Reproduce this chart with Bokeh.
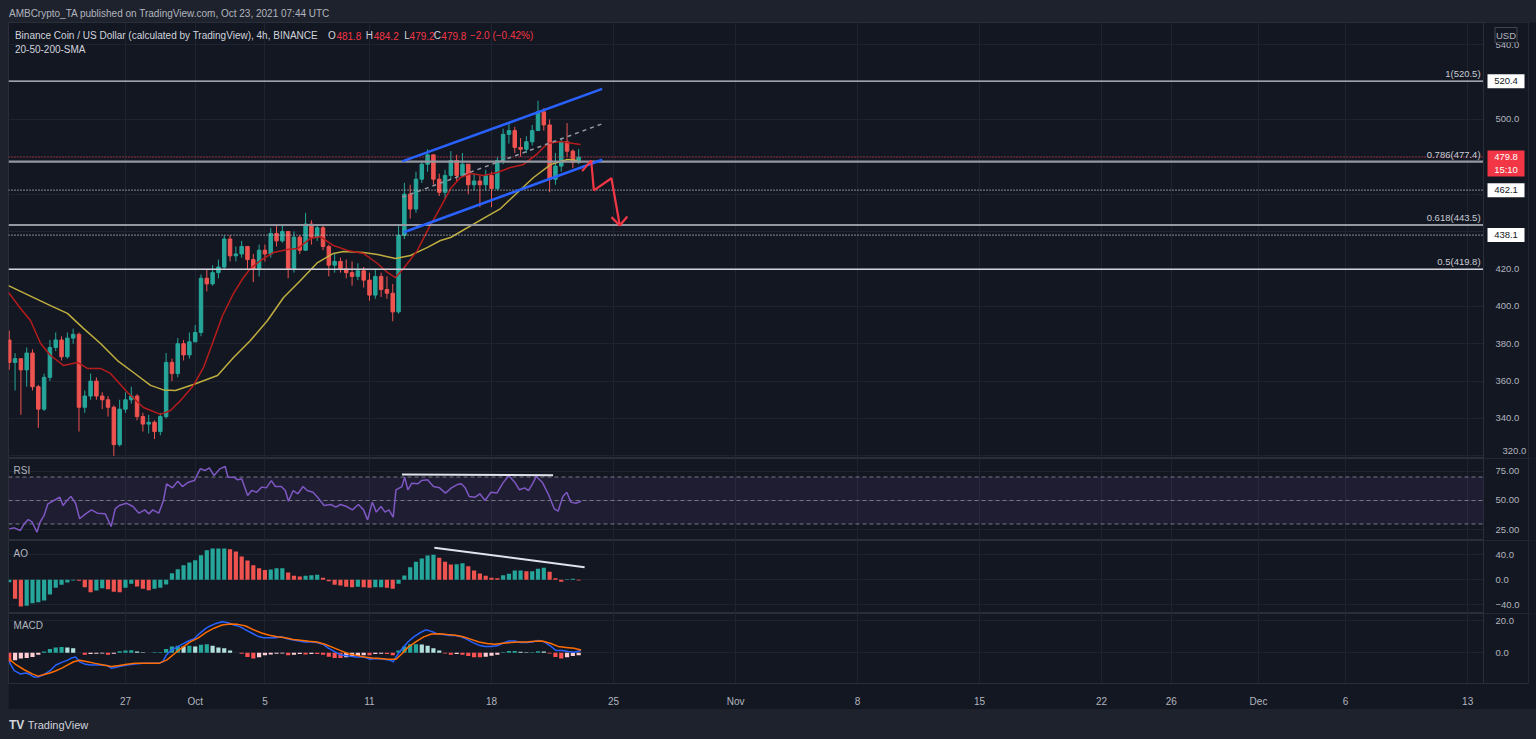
import pandas as pd
from bokeh.plotting import figure
from bokeh.layouts import column, row
from bokeh.models import Range1d, FixedTicker, BoxAnnotation, Spacer
from bokeh.core.properties import value
from bokeh.embed import file_html
from bokeh.resources import INLINE

# ---------------- data ----------------
EPOCH = pd.Timestamp("2021-10-01 00:00")
CANDLE_START = "2021-09-20 08:00"   # 8h candles
OPEN_FIRST = 382.0
CLOSE = [370, 372, 366, 375, 357, 345, 362, 378, 382, 373,
         383, 385, 346, 352, 360, 352, 350, 346, 326, 345,
         350, 352, 341, 337, 338, 333, 341, 370, 364, 380,
         374, 381, 386, 415, 412, 418, 421, 436, 427, 428,
         432, 425, 420, 430, 428, 439, 435, 440, 420, 437,
         430, 444, 437, 442, 432, 422, 424, 420, 418, 416,
         419, 414, 406, 416, 409, 407, 397, 438, 460, 452,
         468, 476, 481, 468, 461, 470, 478, 470, 476, 465,
         467, 465, 470, 463, 478, 492, 494, 485, 484, 488,
         494, 504, 497, 468, 475, 488, 483, 477, 479.8]
HIGH = [387, 375, 372, 378, 377, 358, 364, 382, 386, 384,
        386, 388, 386, 355, 364, 362, 354, 352, 347, 350,
        354, 357, 353, 343, 342, 339, 343, 375, 372, 383,
        382, 386, 390, 417, 420, 422, 425, 438, 438, 432,
        435, 432, 428, 433, 433, 442, 443, 444, 440, 440,
        438, 450, 446, 444, 443, 433, 428, 426, 425, 424,
        423, 421, 418, 420, 418, 416, 412, 443, 466, 465,
        472, 478, 484, 481, 471, 473, 483, 481, 482, 476,
        471, 470, 473, 472, 480, 495, 498, 496, 490, 491,
        497, 510, 506, 500, 482, 490, 498, 484, 484.2]
LOW = [366, 355, 342, 357, 355, 335, 344, 360, 376, 371,
       372, 380, 333, 343, 350, 350, 345, 341, 320, 325,
       343, 348, 339, 333, 332, 329, 331, 340, 360, 362,
       371, 372, 381, 384, 408, 411, 415, 420, 424, 424,
       426, 420, 413, 416, 424, 426, 432, 434, 415, 418,
       428, 430, 433, 435, 430, 416, 418, 418, 415, 411,
       414, 410, 403, 404, 405, 404, 392, 396, 436, 447,
       450, 466, 472, 465, 459, 458, 468, 467, 469, 460,
       462, 453, 462, 453, 462, 476, 487, 482, 480, 482,
       486, 494, 494, 461, 465, 472, 480, 474, 476]

SMA20_DAYS = [-10.71, -10.02, -9.45, -8.87, -8.30, -7.56, -6.75, -6.18, -5.43, -4.86,
              -3.88, -2.97, -1.99, -1.42, -0.84, -0.10, 0.48, 1.05, 1.57, 2.20,
              2.77, 3.17, 3.75, 4.49, 5.30, 5.87, 6.62, 7.19, 7.93, 8.74,
              9.65, 10.46, 11.03, 11.49, 11.95, 12.75, 13.33, 14.07, 14.65, 15.22,
              15.79, 16.54, 17.34, 18.09, 18.84, 19.64, 20.21, 20.96, 21.71, 22.11]
SMA20_VALUES = [407.4, 398.8, 392.4, 380.1, 373.7, 368.4, 370.0, 366.8, 366.8, 364.1,
                353.9, 345.9, 342.2, 344.3, 349.6, 357.7, 367.3, 381.7, 395.1, 406.9,
                415.4, 420.2, 424.5, 428.8, 430.4, 430.9, 436.3, 437.3, 432.5, 429.9,
                428.3, 422.9, 418.1, 415.4, 420.2, 429.9, 440.6, 452.9, 463.0, 468.9,
                471.0, 470.0, 471.6, 474.3, 475.9, 481.7, 487.1, 488.2, 487.1, 486.6]
SMA50_DAYS = [-10.71, -10.14, -8.30, -7.33, -6.41, -5.43, -4.46, -3.54, -2.56, -1.82,
              -1.13, -0.10, 1.28, 2.20, 3.17, 4.15, 5.07, 6.04, 7.02, 7.93,
              8.51, 9.65, 10.46, 11.49, 12.35, 13.33, 14.07, 14.65, 16.54, 17.52,
              18.49, 19.41, 20.39, 20.96, 21.36, 21.94]
SMA50_VALUES = [411.1, 408.5, 400.4, 396.2, 388.2, 380.1, 371.0, 364.6, 357.7, 355.3,
                355.0, 358.2, 363.0, 372.6, 381.7, 392.4, 404.7, 413.8, 423.4, 428.3,
                429.3, 428.8, 427.7, 425.6, 427.2, 431.5, 435.2, 436.8, 447.0, 452.3,
                460.9, 468.9, 475.8, 477.5, 478.5, 478.0]

CHANNEL_UPPER = ([11.88, 23.35], [477.5, 516.3])
CHANNEL_LOWER = ([11.97, 23.35], [439.6, 478.4])
CHANNEL_MID = ([11.88, 23.35], [458.4, 497.6])
ARROW_PATH = ([22.20, 22.72, 22.87, 23.88, 24.36], [472.3, 478.0, 462.0, 468.5, 443.2])
ARROW_HEAD = ([23.88, 24.36, 24.79], [447.7, 443.2, 448.0])

FIB_LEVELS = [520.4, 477.4, 443.5, 419.8]
FIB_TEXTS = ["1(520.5)", "0.786(477.4)", "0.618(443.5)", "0.5(419.8)"]
DOTTED_LEVELS = [462.1, 438.1]
LAST_PRICE = 479.8
COUNTDOWN = "15:10"

RSI_DAYS = [-10.67, -10.38, -10.04, -9.81, -9.58, -9.35, -9.08, -8.90, -8.67, -8.45,
            -8.11, -7.77, -7.58, -7.36, -7.13, -6.86, -6.63, -6.29, -5.95, -5.61,
            -5.16, -4.82, -4.59, -4.36, -3.95, -3.57, -3.23, -2.89, -2.66, -2.43,
            -2.09, -1.82, -1.64, -1.30, -1.00, -0.73, -0.39, -0.05, 0.29, 0.58,
            0.81, 1.08, 1.42, 1.72, 1.88, 2.22, 2.44, 2.67, 3.01, 3.24,
            3.53, 3.81, 4.08, 4.37, 4.60, 4.94, 5.17, 5.35, 5.62, 5.89,
            6.19, 6.42, 6.76, 7.10, 7.39, 7.78, 8.07, 8.34, 8.68, 9.02,
            9.36, 9.66, 9.89, 10.16, 10.39, 10.66, 10.89, 11.11, 11.36, 11.52,
            11.86, 12.02, 12.20, 12.43, 12.77, 12.99, 13.33, 13.67, 14.02, 14.36,
            14.70, 15.04, 15.26, 15.49, 15.72, 16.06, 16.33, 16.63, 16.97, 17.31,
            17.65, 17.99, 18.33, 18.60, 18.90, 19.12, 19.35, 19.57, 19.91, 20.25,
            20.60, 20.82, 21.09, 21.32, 21.55, 21.84, 22.14]
RSI_VALUES = [25.8, 26.7, 24.4, 30.1, 33.8, 31.5, 23.0, 31.5, 37.2, 47.2,
              50.0, 52.8, 45.7, 50.0, 53.4, 47.7, 34.4, 38.6, 42.0, 39.2,
              38.6, 27.8, 42.9, 45.7, 47.7, 44.9, 39.2, 42.0, 38.6, 42.0,
              39.2, 50.0, 64.2, 60.8, 66.5, 61.9, 65.6, 67.0, 77.0, 75.6,
              77.9, 71.3, 77.0, 79.0, 69.9, 69.9, 67.6, 68.5, 54.3, 58.5,
              57.1, 61.4, 60.8, 67.0, 61.9, 61.9, 58.5, 49.4, 58.5, 55.7,
              61.9, 58.5, 57.1, 51.4, 45.7, 46.6, 44.3, 46.6, 44.9, 42.0,
              46.6, 42.0, 33.5, 48.6, 40.1, 44.9, 40.1, 42.0, 35.8, 59.1,
              61.9, 69.9, 59.1, 64.8, 64.2, 67.0, 67.6, 61.9, 60.8, 56.3,
              60.8, 63.6, 64.2, 60.8, 53.4, 52.8, 55.7, 50.0, 57.1, 56.3,
              64.8, 71.3, 65.6, 59.1, 60.8, 58.5, 64.2, 70.5, 65.6, 55.7,
              42.9, 40.9, 53.4, 57.1, 48.6, 47.7, 49.4]
RSI_TREND = ([11.86, 20.53], [72.2, 71.6])
RSI_BANDS = [70, 50, 30]

AO = [-3.8, -30.4, -42.7, -41.6, -37.4, -35.8, -33.1, -23.5, -12.8, -8.0,
      -4.3, -1.1, -1.6, -11.8, -19.8, -17.1, -13.4, -15.0, -19.2, -19.8,
      -12.8, -6.4, -10.7, -14.4, -16.6, -14.4, -12.8, -7.5, 10.6, 17.0,
      23.4, 27.7, 31.4, 39.4, 47.4, 50.1, 50.1, 50.1, 49.0, 45.3,
      37.3, 30.9, 23.4, 18.6, 15.9, 16.5, 18.6, 18.6, 11.7, 6.4,
      5.3, 6.4, 7.4, 8.0, 3.2, -2.1, -8.0, -9.1, -11.2, -11.8,
      -11.2, -11.8, -12.8, -11.8, -11.8, -12.8, -14.4, -6.4, 6.9, 20.2,
      28.8, 34.1, 38.9, 40.0, 35.2, 28.8, 24.5, 25.0, 26.6, 21.9,
      14.9, 10.1, 6.4, 3.2, 2.6, 7.4, 9.6, 14.9, 14.9, 13.8,
      13.8, 17.6, 19.2, 12.8, 2.6, -3.2, 1.0, 1.6, -1.1]
AO_TREND = ([13.72, 22.34], [51.2, 20.2])

MACD_HIST = [-5.6, -4.6, -3.6, -3.2, -2.6, -1.2, 0.8, 2.4, 3.4, 3.6,
             3.4, 2.8, 0.0, -1.2, -0.8, -0.6, -0.4, -1.2, -0.6, 1.0,
             1.4, 1.6, 0.8, 0.4, 0.0, 0.4, 0.4, 2.4, 4.0, 4.4,
             4.0, 4.4, 4.0, 5.0, 5.4, 4.4, 3.4, 2.8, 1.4, 0.0,
             -0.6, -2.6, -3.6, -2.8, -1.6, -1.0, -0.6, -0.4, -1.6, -1.2,
             -0.8, -1.0, -0.8, -0.8, -1.2, -2.4, -3.2, -3.2, -2.8, -2.4,
             -2.0, -1.6, -1.6, -0.8, -0.6, -0.8, -1.6, 1.4, 4.0, 5.4,
             5.4, 5.2, 4.4, 2.8, 1.4, -0.4, -1.2, -0.8, -1.2, -2.0,
             -2.8, -2.8, -2.4, -1.8, -1.2, 0.4, 1.2, 1.2, 0.6, 0.4,
             0.4, 1.0, 0.8, -0.4, -2.6, -3.6, -2.8, -2.0, -1.6]
MACD_DAYS = [-10.67, -10.38, -10.04, -9.70, -9.47, -9.24, -9.01, -8.67, -8.33, -7.99,
             -7.65, -7.31, -7.09, -6.86, -6.63, -6.29, -5.95, -5.50, -5.04, -4.82,
             -4.59, -4.36, -3.91, -3.46, -3.00, -2.55, -2.09, -1.87, -1.64, -1.41,
             -1.07, -0.73, -0.39, -0.05, 0.18, 0.40, 0.63, 0.86, 1.20, 1.54,
             1.88, 2.22, 2.56, 2.90, 3.24, 3.58, 3.92, 4.26, 4.60, 4.94,
             5.28, 5.62, 5.96, 6.30, 6.64, 6.98, 7.32, 7.66, 8.00, 8.34,
             8.80, 9.25, 9.70, 10.04, 10.39, 10.84, 11.18, 11.36, 11.52, 11.86,
             12.20, 12.54, 12.88, 13.22, 13.56, 13.90, 14.24, 14.58, 14.92, 15.26,
             15.60, 15.94, 16.28, 16.63, 16.97, 17.31, 17.65, 17.99, 18.33, 18.67,
             19.01, 19.35, 19.69, 20.03, 20.37, 20.71, 21.05, 21.39, 21.73, 22.14]
MACD_VALUES = [-5.6, -11.2, -13.2, -12.6, -13.6, -15.2, -15.2, -13.6, -11.2, -7.6,
               -6.0, -4.6, -3.2, -2.6, -5.6, -7.2, -7.6, -7.6, -8.0, -9.6,
               -9.2, -8.6, -7.6, -7.0, -6.6, -6.6, -6.6, -5.6, -1.2, 1.4,
               3.4, 5.4, 7.4, 8.8, 11.4, 13.4, 15.4, 16.8, 18.4, 19.4,
               18.8, 17.4, 16.4, 14.4, 12.4, 10.4, 9.4, 9.4, 9.4, 10.0,
               8.8, 8.0, 7.4, 6.8, 6.8, 6.4, 5.4, 2.8, 0.8, -1.2,
               -2.0, -2.6, -2.6, -4.0, -3.6, -4.0, -4.6, -5.6, -2.6, 2.4,
               6.8, 10.0, 12.4, 14.4, 13.4, 11.8, 11.4, 10.8, 10.8, 10.0,
               8.4, 6.4, 4.8, 4.0, 4.0, 4.4, 6.0, 7.4, 7.4, 6.4,
               6.4, 6.8, 7.8, 6.8, 4.4, 1.4, 1.4, 0.8, 0.4, 1.4]
SIGNAL_DAYS = [-10.67, -10.26, -9.81, -9.35, -9.01, -8.67, -8.33, -7.99, -7.65, -7.31,
               -6.97, -6.63, -6.18, -5.73, -5.27, -4.82, -4.36, -3.91, -3.46, -3.00,
               -2.09, -1.64, -1.19, -0.73, -0.28, 0.18, 0.63, 1.08, 1.54, 1.99,
               2.44, 2.90, 3.35, 3.81, 4.26, 4.71, 5.17, 5.62, 6.07, 6.53,
               6.98, 7.44, 7.89, 8.34, 8.80, 9.25, 9.70, 10.16, 10.61, 11.07,
               11.52, 11.86, 12.20, 12.65, 13.11, 13.56, 14.02, 14.47, 14.92, 15.38,
               15.83, 16.28, 16.74, 17.19, 17.65, 18.10, 18.55, 19.01, 19.46, 19.91,
               20.37, 20.82, 21.28, 21.73, 22.14]
SIGNAL_VALUES = [-4.0, -7.6, -10.6, -13.2, -14.6, -13.6, -12.6, -11.2, -9.6, -7.6,
                 -5.6, -4.6, -5.6, -6.6, -7.6, -8.6, -8.0, -7.2, -6.6, -6.6,
                 -6.6, -4.6, -0.6, 3.4, 6.8, 9.4, 12.8, 15.4, 17.4, 18.0,
                 17.8, 16.8, 14.4, 12.4, 11.0, 10.0, 9.4, 8.4, 7.8, 7.2,
                 6.8, 5.4, 3.4, 1.4, -0.6, -1.6, -2.6, -3.2, -3.6, -4.0,
                 -4.0, -0.6, 3.4, 6.8, 10.0, 11.8, 12.0, 11.4, 11.0, 10.0,
                 8.4, 6.8, 5.8, 5.4, 6.0, 6.4, 6.8, 6.8, 7.2, 7.4,
                 6.0, 4.0, 3.4, 2.8, 1.8]

XTICK_DAYS = [-4, 0, 4, 10, 17, 24, 31, 38, 45, 52, 56, 61, 66, 73]
XTICK_LABELS = ["27", "Oct", "5", "11", "18", "25", "Nov", "8", "15", "22", "26", "Dec", "6", "13"]
PRICE_TICKS = [320, 340, 360, 380, 400, 420, 440, 460, 480, 500, 520, 540]
PRICE_HIDDEN = [320, 440, 460, 480, 520]

# ---------------- styling ----------------
BG = "#131722"
OUTER = "#1e222d"
GRID = "#1f2330"
SEP = "#2a2e39"
TXT = "#b2b5be"
UP = "#26a69a"
DOWN = "#ef5350"
FONT = "Liberation Sans"
W = 1520            # visible frame width (chart + price scale)
HIDDEN_RIGHT = 60   # axis side panel, pushed off-screen; the axis itself is drawn at AXIS_X
X_START = -10.71
AXIS_X = 73.91      # left edge of the price-scale column
X_END = 76.49
XR = Range1d(X_START, X_END)
BOX_X = 75.20       # centre of the price-scale column
TICK_LABEL_X = 75.00

times = [(t - EPOCH) / pd.Timedelta(days=1)
         for t in pd.date_range(CANDLE_START, periods=len(CLOSE), freq="8h")]
opens = [OPEN_FIRST] + CLOSE[:-1]


def pane(height, y0, y1, yticks, ylabels, bottom=0, xaxis=False):
    p = figure(width=W + HIDDEN_RIGHT, height=height, x_range=XR, y_range=Range1d(y0, y1),
               output_backend="svg", toolbar_location=None,
               x_axis_location="below" if xaxis else None, y_axis_location="right",
               min_border_left=0, min_border_right=HIDDEN_RIGHT, min_border_top=0,
               min_border_bottom=bottom, background_fill_color=BG,
               border_fill_color=BG, outline_line_color=SEP)
    p.xgrid.ticker = FixedTicker(ticks=XTICK_DAYS)
    p.xgrid.grid_line_color = GRID
    yt = FixedTicker(ticks=yticks)
    p.yaxis.ticker = yt
    p.ygrid.ticker = yt
    p.ygrid.grid_line_color = GRID
    p.yaxis.fixed_location = AXIS_X
    p.yaxis.major_label_overrides = {int(t): l for t, l in zip(yticks, ylabels)}
    p.yaxis.major_tick_line_color = None
    p.yaxis.minor_tick_line_color = None
    p.yaxis.axis_line_color = SEP
    p.yaxis.major_label_standoff = 6
    p.yaxis.major_label_text_color = TXT
    p.yaxis.major_label_text_font = FONT
    p.yaxis.major_label_text_font_size = "9.5px"
    # price-scale column background (covers the grid there)
    p.add_layout(BoxAnnotation(left=AXIS_X, fill_color=BG, fill_alpha=1.0,
                               line_color=None, level="underlay"))
    if xaxis:
        p.xaxis.ticker = FixedTicker(ticks=XTICK_DAYS)
        p.xaxis.major_label_overrides = {int(t): l for t, l in zip(XTICK_DAYS, XTICK_LABELS)}
        p.xaxis.major_tick_line_color = None
        p.xaxis.minor_tick_line_color = None
        p.xaxis.axis_line_color = SEP
        p.xaxis.major_label_standoff = 6
        p.xaxis.major_label_text_color = TXT
        p.xaxis.major_label_text_font = FONT
        p.xaxis.major_label_text_font_size = "10px"
    return p


def txt(p, x, y, s, color=TXT, size="10px", align="left", baseline="middle",
        style="normal", yoff=0, level="glyph"):
    p.text(x=[x], y=[y], text=[s], text_color=color, text_font=value(FONT),
           text_font_size=value(size), text_align=align, text_baseline=baseline,
           text_font_style=style, y_offset=yoff, level=level)


def hline(p, y, color, width, dash="solid"):
    p.segment(x0=[X_START], x1=[AXIS_X], y0=[y], y1=[y], line_color=color,
              line_width=width, line_dash=dash)


def scale_box(p, y, s, bg, fg, w=37, h=14, border=None, yc=None):
    p.rect(x=[BOX_X], y=[y if yc is None else yc], width=w, height=h, width_units="screen",
           height_units="screen", fill_color=bg, line_color=border, level="annotation")
    for i, line in enumerate(s.split("\n")):
        p.text(x=[BOX_X], y=[y], text=[line], text_align="center", text_baseline="middle",
               text_color=fg, text_font=value(FONT), text_font_size=value("9.5px"),
               y_offset=12.5 * i, level="annotation")


# ---------------- header ----------------
hdr = figure(width=W, height=22, x_range=Range1d(0, W), y_range=Range1d(0, 22),
             output_backend="svg", toolbar_location=None, x_axis_location=None,
             y_axis_location=None, min_border=0, background_fill_color=OUTER,
             border_fill_color=OUTER, outline_line_color=None)
hdr.xgrid.visible = False
hdr.ygrid.visible = False
txt(hdr, 0.5, 8.8, "AMBCrypto_TA published on TradingView.com, Oct 23, 2021 07:44 UTC",
    size="10px")

# ---------------- price pane ----------------
main = pane(436, 318.6, 551.8, PRICE_TICKS,
            ["" if v in PRICE_HIDDEN else f"{v}.0" for v in PRICE_TICKS])
colors = [UP if c >= o else DOWN for o, c in zip(opens, CLOSE)]
main.segment(x0=times, y0=LOW, x1=times, y1=HIGH, line_color=colors, line_width=1)
main.vbar(x=times, width=0.2, top=[max(o, c) for o, c in zip(opens, CLOSE)],
          bottom=[min(o, c) for o, c in zip(opens, CLOSE)],
          fill_color=colors, line_color=colors)
main.line(SMA50_DAYS, SMA50_VALUES, line_color="#bfae3f", line_width=1.5)
main.line(SMA20_DAYS, SMA20_VALUES, line_color="#b71c1c", line_width=1.5)

fib_styles = [("#c8cbd3", 1.3), ("#9598a1", 2.2), ("#9598a1", 2.2), ("#d1d4dc", 1.5)]
for lvl, (col, w) in zip(FIB_LEVELS, fib_styles):
    hline(main, lvl, col, w)
for lvl in DOTTED_LEVELS:
    hline(main, lvl, "#c8cbd3", 1.2, "1 2")
hline(main, LAST_PRICE, "#f23645", 1, "1 2")
for lvl, s in zip(FIB_LEVELS, FIB_TEXTS):
    txt(main, 73.74, lvl, s, color="#c8cbd3", size="9.5px", align="right",
        baseline="bottom", yoff=-2)

main.line(*CHANNEL_MID, line_color="#9598a1", line_width=1.5, line_dash="4 4")
main.line(*CHANNEL_UPPER, line_color="#2962ff", line_width=2.5)
main.line(*CHANNEL_LOWER, line_color="#2962ff", line_width=2.5)
main.line(*ARROW_PATH, line_color="#f23645", line_width=2.2)
main.line(*ARROW_HEAD, line_color="#f23645", line_width=2.2)

LEG_Y1, LEG_Y2 = 544.8, 537.2
txt(main, -10.34, LEG_Y1, "Binance Coin / US Dollar (calculated by TradingView), 4h, BINANCE",
    color="#d1d4dc")
for xx, s, col in [(7.62, "O", "#d1d4dc"), (8.10, "481.8", "#f23645"),
                   (9.78, "H", "#d1d4dc"), (10.24, "484.2", "#f23645"),
                   (11.99, "L", "#d1d4dc"), (12.30, "479.2", "#f23645"),
                   (13.68, "C", "#d1d4dc"), (14.12, "479.8", "#f23645"),
                   (15.76, "\u22122.0 (\u22120.42%)", "#f23645")]:
    txt(main, xx, LEG_Y1, s, color=col)
txt(main, -10.34, LEG_Y2, "20-50-200-SMA", color="#d1d4dc")

# price-scale boxes
for lvl in [FIB_LEVELS[0]] + DOTTED_LEVELS:
    scale_box(main, lvl, f"{lvl:.1f}", "#ffffff", "#131722")
scale_box(main, LAST_PRICE, f"{LAST_PRICE:.1f}\n{COUNTDOWN}", "#f23645", "#ffffff",
          h=26, yc=476.4)
scale_box(main, 545.1, "USD", BG, TXT, w=22, h=15, border="#434651")
txt(main, TICK_LABEL_X, 321.0, "320.0", size="9.5px", baseline="bottom", level="annotation")

# ---------------- RSI ----------------
rsi = pane(82, 15.9, 85.8, [25, 50, 75], ["25.00", "50.00", "75.00"])
rsi.add_layout(BoxAnnotation(bottom=30, top=70, right=AXIS_X, fill_color="#7e57c2",
                             fill_alpha=0.1, line_color=None, level="underlay"))
for lv in RSI_BANDS:
    hline(rsi, lv, "#787b86", 1, "4 3")
rsi.line(RSI_DAYS, RSI_VALUES, line_color="#7e57c2", line_width=1.5)
rsi.line(*RSI_TREND, line_color="#e0e3eb", line_width=2)
txt(rsi, -10.42, 75.6, "RSI")

# ---------------- AO ----------------
ao = pane(73, -53.9, 62.9, [-40, 0, 40], ["\u221240.0", "0.0", "40.0"])
ao_colors = [UP if i == 0 or v >= AO[i - 1] else DOWN for i, v in enumerate(AO)]
ao.vbar(x=times, width=0.24, top=AO, bottom=0, fill_color=ao_colors, line_color=None)
ao.line(*AO_TREND, line_color="#e0e3eb", line_width=2)
txt(ao, -10.42, 42, "AO")

# ---------------- MACD ----------------
macd = pane(96, -19.2, 24.6, [0, 20], ["0.0", "20.0"], bottom=23, xaxis=True)
hist_colors = []
for i, h in enumerate(MACD_HIST):
    prev = MACD_HIST[i - 1] if i > 0 else h
    if h >= 0:
        hist_colors.append("#26a69a" if h >= prev else "#b2dfdb")
    else:
        hist_colors.append("#ffcdd2" if h > prev else "#ff5252")
macd.vbar(x=times, width=0.24, top=MACD_HIST, bottom=0, fill_color=hist_colors,
          line_color=None)
macd.line(MACD_DAYS, MACD_VALUES, line_color="#2962ff", line_width=1.5)
macd.line(SIGNAL_DAYS, SIGNAL_VALUES, line_color="#ff6d00", line_width=1.5)
txt(macd, -10.42, 16.8, "MACD")

# ---------------- footer ----------------
ftr = figure(width=W, height=29, x_range=Range1d(0, W), y_range=Range1d(0, 29),
             output_backend="svg", toolbar_location=None, x_axis_location=None,
             y_axis_location=None, min_border=0, background_fill_color=OUTER,
             border_fill_color=OUTER, outline_line_color=None)
ftr.xgrid.visible = False
ftr.ygrid.visible = False
txt(ftr, 0.5, 14, "TV", color="#d1d4dc", size="12px", style="bold")
txt(ftr, 20, 14, "TradingView", color="#d1d4dc", size="11px")

layout = row(Spacer(width=8, height=738),
             column(hdr, main, rsi, ao, macd, ftr, spacing=0), spacing=0)
html = file_html(layout, INLINE, title="BNB/USD 4h")
html = html.replace(
    "</head>",
    "<style>html, body {background:#1e222d; margin:0; padding:0; overflow:hidden;}</style></head>", 1)
open("out.html", "w").write(html)
